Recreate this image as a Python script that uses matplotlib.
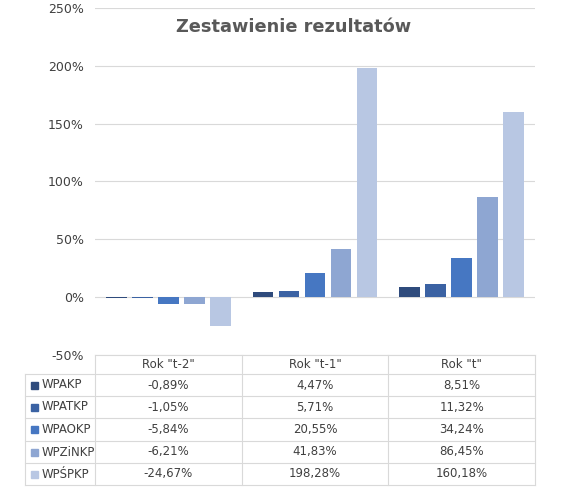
import matplotlib
matplotlib.use("Agg")
import matplotlib.pyplot as plt
from matplotlib.patches import Rectangle

categories = ['Rok "t-2"', 'Rok "t-1"', 'Rok "t"']
series = ["WPAKP", "WPATKP", "WPAOKP", "WPZiNKP", "WPŚPKP"]
wpakp = [-0.89, 4.47, 8.51]
wpatkp = [-1.05, 5.71, 11.32]
wpaokp = [-5.84, 20.55, 34.24]
wpzinkp = [-6.21, 41.83, 86.45]
wpspkp = [-24.67, 198.28, 160.18]
values = [wpakp, wpatkp, wpaokp, wpzinkp, wpspkp]
colors = ["#2f4b7c", "#3b62a3", "#4677c2", "#8ea6d2", "#b8c7e3"]

fig = plt.figure(figsize=(5.87, 5.0), dpi=100)
L, R, B, T = 95/587, 535/587, 1-355/500, 1-8/500
ax = fig.add_axes([L, B, R-L, T-B])
spacing, width = 0.177, 0.14
for i, (vals, c) in enumerate(zip(values, colors)):
    xs = [k + (i-2)*spacing for k in range(3)]
    ax.bar(xs, vals, width=width, color=c, zorder=3)
ax.set_xlim(-0.5, 2.5)
ax.set_ylim(-50, 250)
ax.set_yticks(range(-50, 251, 50))
ax.set_yticklabels([f"{v}%" for v in range(-50, 251, 50)], fontsize=9, color="#404040")
ax.yaxis.grid(True, color="#d9d9d9", lw=0.8, zorder=0)
ax.set_xticks([])
for s in ax.spines.values():
    s.set_visible(False)
ax.tick_params(axis="y", length=0, pad=8)
fig.text(0.5, 1-27/500, "Zestawienie rezultatów", ha="center", va="center",
         fontsize=12.8, fontweight="bold", color="#595959")

# data table
lc = "#d9d9d9"
rows_y = [355, 374, 396, 418, 441, 463, 485]
colx = [25, 95, 95+440/3, 95+2*440/3, 535]
def fx(px): return px/587
def fy(py): return 1-py/500
for y in rows_y:
    x0 = 95 if y == 355 else 25
    fig.add_artist(plt.Line2D([fx(x0), fx(535)], [fy(y)]*2, color=lc, lw=0.8))
for x in colx:
    y0 = 374 if x == 25 else 355
    fig.add_artist(plt.Line2D([fx(x)]*2, [fy(y0), fy(485)], color=lc, lw=0.8))
for k, cat in enumerate(categories):
    fig.text(fx((colx[k+1]+colx[k+2])/2), fy(364.5), cat, ha="center", va="center",
             fontsize=8.5, color="#404040")
for i, name in enumerate(series):
    yc = (rows_y[i+1]+rows_y[i+2])/2
    fig.add_artist(Rectangle((fx(31), fy(yc+3.5)), 7/587, 7/500, color=colors[i],
                             transform=fig.transFigure))
    fig.text(fx(42), fy(yc), name, ha="left", va="center", fontsize=8.5, color="#404040")
    for k in range(3):
        s = f"{values[i][k]:.2f}%".replace(".", ",")
        fig.text(fx((colx[k+1]+colx[k+2])/2), fy(yc), s, ha="center", va="center",
                 fontsize=8.5, color="#404040")

fig.savefig("out.png", dpi=100, facecolor="white")
